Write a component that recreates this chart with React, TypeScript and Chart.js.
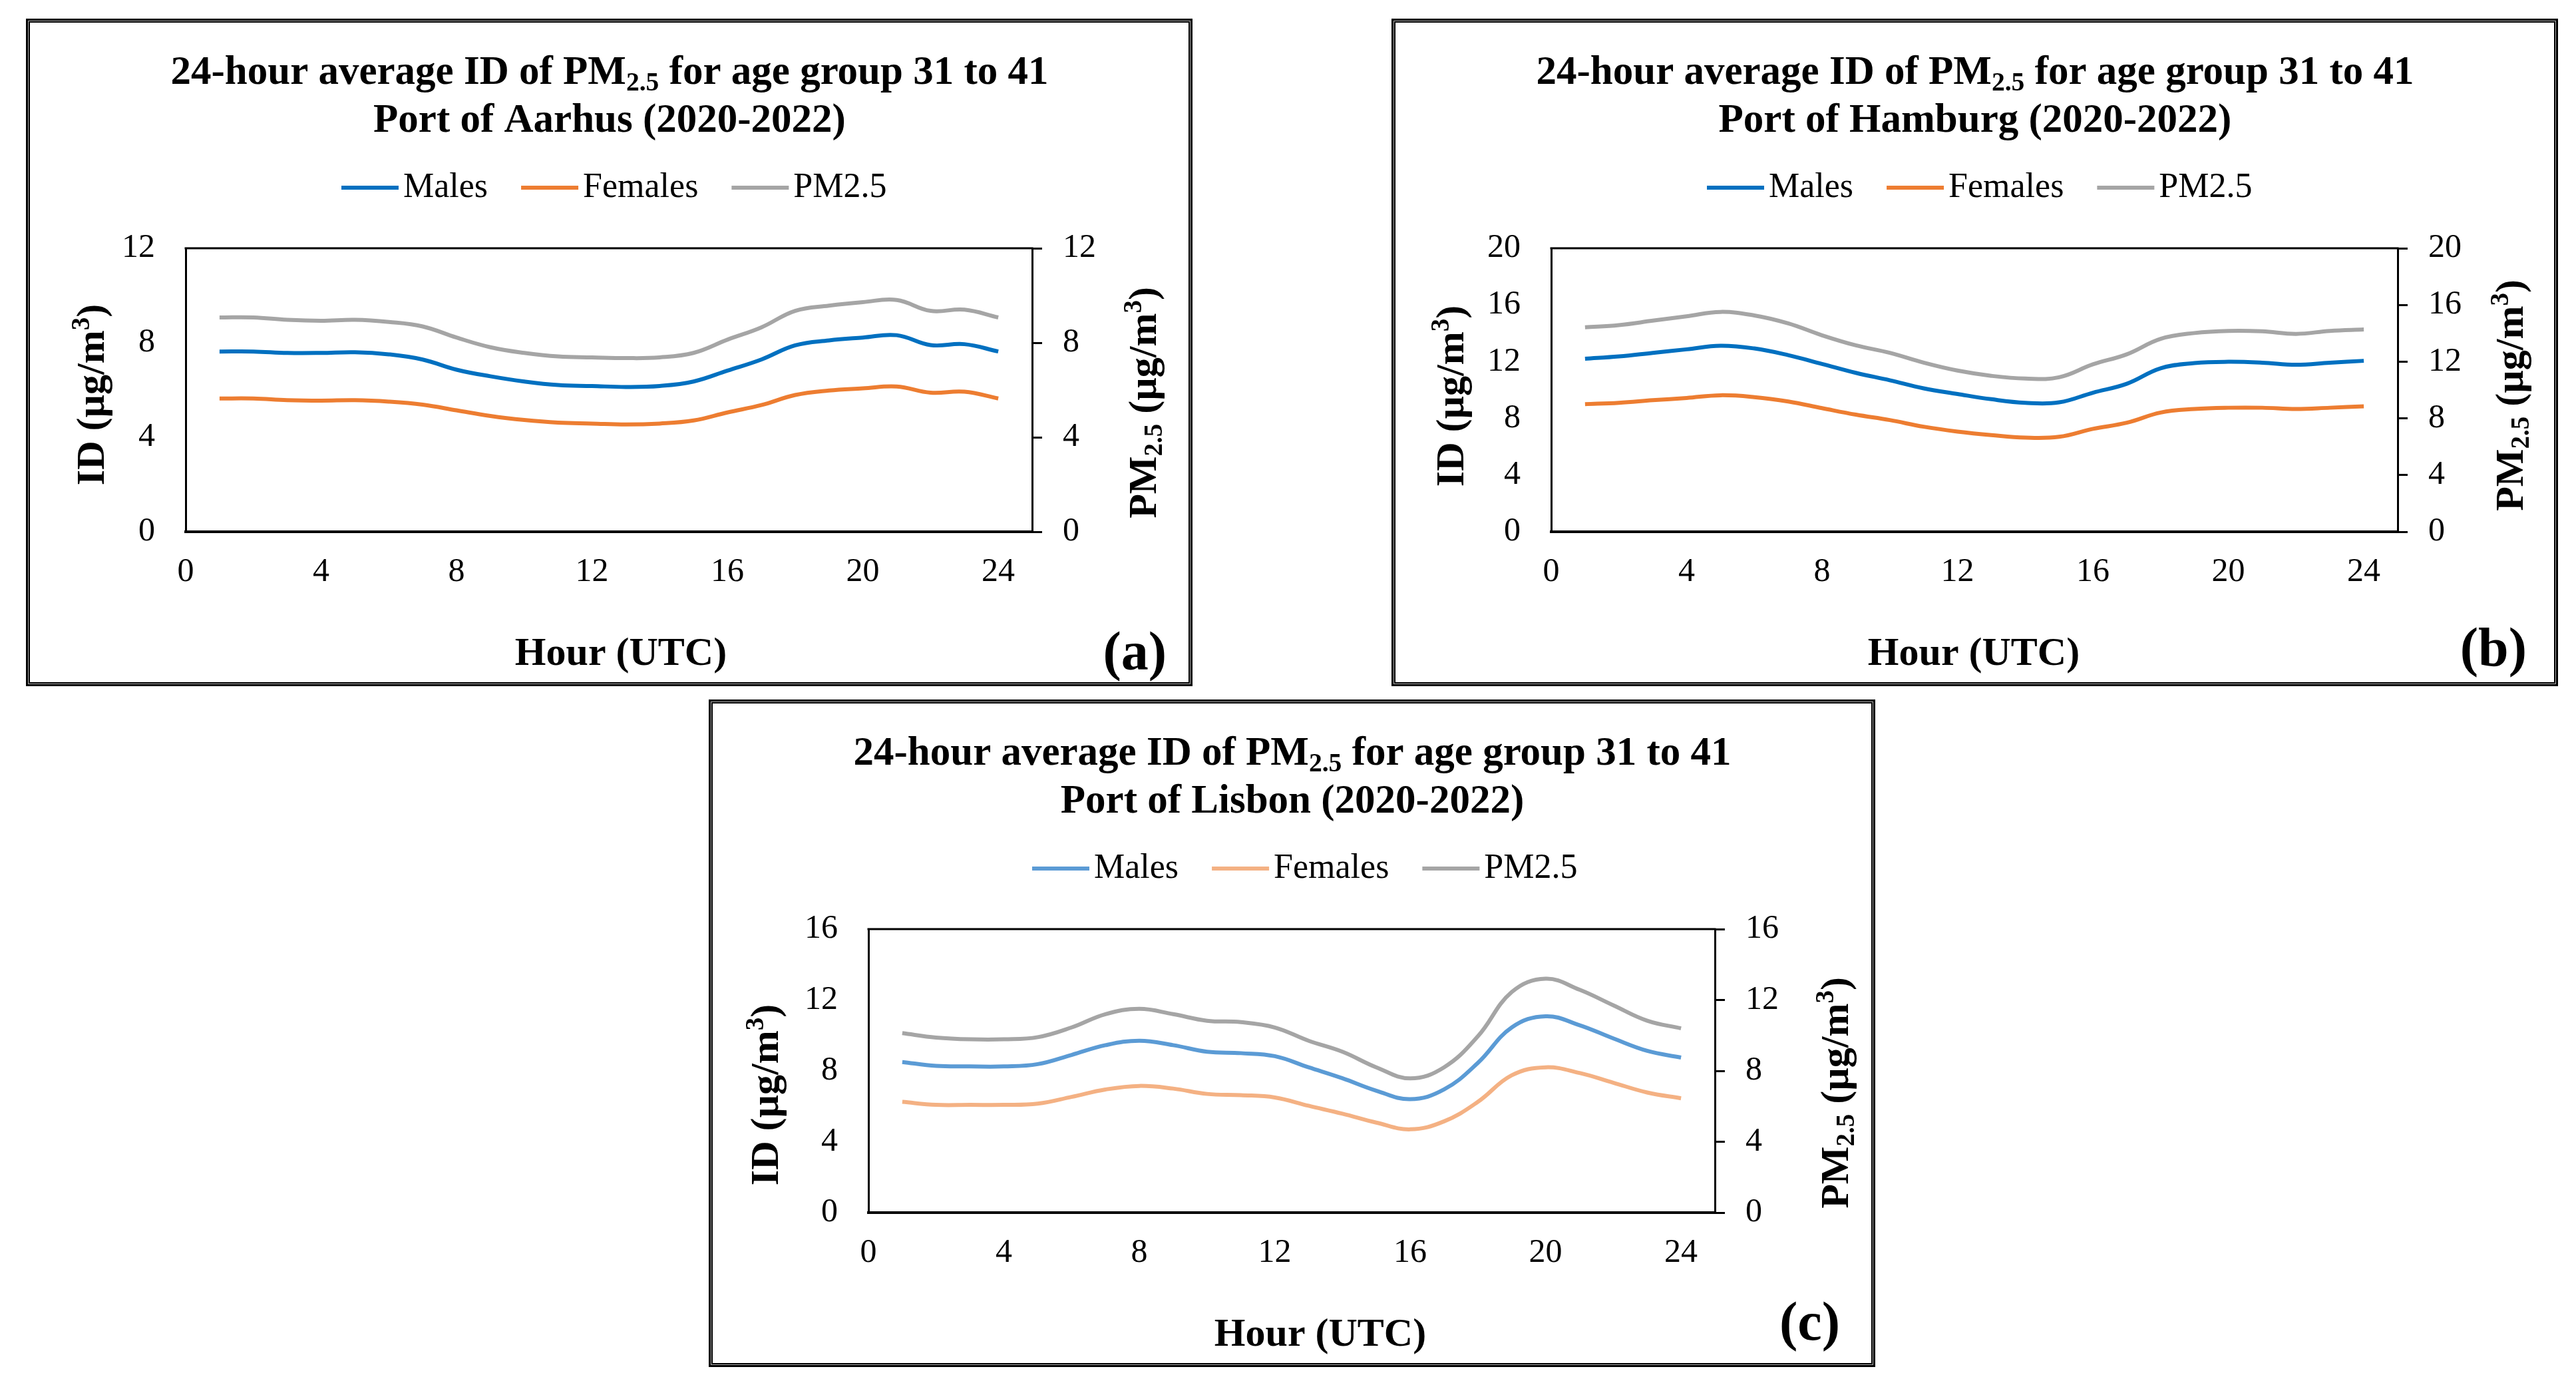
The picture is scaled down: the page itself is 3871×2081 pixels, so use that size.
import React, { useEffect, useRef } from 'react';
import { Chart, registerables } from 'chart.js';

Chart.register(...registerables);

// ---------- data ----------
const hours = [1, 2, 3, 4, 5, 6, 7, 8, 9, 10, 11, 12, 13, 14, 15, 16, 17, 18, 19, 20, 21, 22, 23, 24];
const xTicks = [0, 4, 8, 12, 16, 20, 24];
const seriesLabels = ['Males', 'Females', 'PM2.5'];

const aarhusYTicks = [0, 4, 8, 12];
const aarhusMales = [7.63, 7.63, 7.57, 7.57, 7.6, 7.51, 7.29, 6.86, 6.58, 6.36, 6.21, 6.17, 6.13, 6.17, 6.36, 6.82, 7.29, 7.89, 8.1, 8.22, 8.32, 7.9, 7.94, 7.63];
const aarhusFemales = [5.64, 5.64, 5.57, 5.55, 5.57, 5.51, 5.38, 5.14, 4.9, 4.73, 4.62, 4.58, 4.54, 4.58, 4.71, 5.05, 5.36, 5.79, 5.98, 6.07, 6.15, 5.89, 5.93, 5.64];
const aarhusPM = [9.07, 9.07, 8.97, 8.93, 8.97, 8.88, 8.69, 8.22, 7.81, 7.57, 7.42, 7.38, 7.35, 7.38, 7.57, 8.13, 8.65, 9.35, 9.57, 9.72, 9.81, 9.35, 9.4, 9.07];

const hamburgYTicks = [0, 4, 8, 12, 16, 20];
const hamburgMales = [12.21, 12.37, 12.62, 12.87, 13.12, 12.93, 12.46, 11.84, 11.21, 10.69, 10.12, 9.72, 9.35, 9.1, 9.13, 9.81, 10.44, 11.53, 11.9, 11.99, 11.93, 11.78, 11.93, 12.06];
const hamburgFemales = [9.0, 9.1, 9.28, 9.44, 9.63, 9.5, 9.19, 8.72, 8.26, 7.88, 7.41, 7.07, 6.82, 6.64, 6.7, 7.26, 7.69, 8.41, 8.66, 8.75, 8.75, 8.66, 8.75, 8.85];
const hamburgPM = [14.42, 14.58, 14.89, 15.2, 15.51, 15.26, 14.7, 13.86, 13.15, 12.62, 11.93, 11.37, 11.0, 10.81, 10.9, 11.81, 12.52, 13.61, 14.02, 14.17, 14.14, 13.96, 14.17, 14.27];

const lisbonYTicks = [0, 4, 8, 12, 16];
const lisbonMales = [8.5, 8.28, 8.25, 8.25, 8.38, 8.9, 9.45, 9.7, 9.45, 9.08, 9.0, 8.83, 8.2, 7.58, 6.88, 6.4, 6.95, 8.45, 10.45, 11.08, 10.58, 9.83, 9.13, 8.75];
const lisbonFemales = [6.25, 6.08, 6.08, 6.08, 6.15, 6.53, 6.95, 7.15, 7.0, 6.7, 6.63, 6.5, 6.03, 5.58, 5.08, 4.7, 5.15, 6.25, 7.75, 8.2, 7.88, 7.33, 6.78, 6.45];
const lisbonPM = [10.13, 9.88, 9.78, 9.78, 9.9, 10.45, 11.2, 11.5, 11.2, 10.83, 10.75, 10.45, 9.7, 9.08, 8.2, 7.58, 8.2, 9.95, 12.45, 13.2, 12.58, 11.7, 10.83, 10.4];

// ---------- layout / style ----------
const W = 1753;
const H = 1003;
const PLOT_LEFT = 240;
const PLOT_TOP = 345;
const PLOT_RIGHT = 1512;
const PLOT_BOTTOM = 771;
const FONT = '"Liberation Serif", "Times New Roman", serif';

type Seg = { t: string; k?: 'sub' | 'sup' };

const titleLine1: Seg[] = [
  { t: '24-hour average ID of PM' },
  { t: '2.5', k: 'sub' },
  { t: ' for age group 31 to 41' },
];
const leftAxisTitle: Seg[] = [{ t: 'ID (µg/m' }, { t: '3', k: 'sup' }, { t: ')' }];
const rightAxisTitle: Seg[] = [
  { t: 'PM' },
  { t: '2.5', k: 'sub' },
  { t: ' (µg/m' },
  { t: '3', k: 'sup' },
  { t: ')' },
];

function segFont(s: Seg, size: number, weight: string) {
  const sz = s.k ? size * 0.65 : size;
  return `${weight} ${sz}px ${FONT}`;
}

function drawRich(
  ctx: CanvasRenderingContext2D,
  segs: Seg[],
  x: number,
  y: number,
  size: number,
  weight: string,
  align: 'center' | 'left' | 'right',
  rotate = false
) {
  ctx.save();
  ctx.fillStyle = '#000';
  ctx.textBaseline = 'alphabetic';
  ctx.textAlign = 'left';
  let total = 0;
  const widths = segs.map((s) => {
    ctx.font = segFont(s, size, weight);
    const w = ctx.measureText(s.t).width;
    total += w;
    return w;
  });
  let ox = x;
  let oy = y;
  if (rotate) {
    ctx.translate(x, y);
    ctx.rotate(-Math.PI / 2);
    ox = 0;
    oy = size * 0.33; // cap centre on the anchor
  }
  let cx = align === 'center' ? ox - total / 2 : align === 'right' ? ox - total : ox;
  segs.forEach((s, i) => {
    ctx.font = segFont(s, size, weight);
    let dy = 0;
    if (s.k === 'sub') dy = size * 0.16;
    if (s.k === 'sup') dy = -size * 0.36;
    ctx.fillText(s.t, cx, oy + dy);
    cx += widths[i];
  });
  ctx.restore();
}

type PanelCfg = {
  left: number;
  top: number;
  place: string;
  males: number[];
  females: number[];
  pm: number[];
  yMax: number;
  yTicks: number[];
  colors: string[];
  legendX: number;
  hourX: number;
  tag: string;
  tagX: number;
  tagY: number;
  leftT: [number, number];
  rightT: [number, number];
};

const panels: PanelCfg[] = [
  {
    left: 39, top: 28, place: 'Port of Aarhus (2020-2022)',
    males: aarhusMales, females: aarhusFemales, pm: aarhusPM,
    yMax: 12, yTicks: aarhusYTicks,
    colors: ['#0070C0', '#ED7D31', '#A5A5A5'],
    legendX: 474, hourX: 894, tag: '(a)', tagX: 1714, tagY: 978,
    leftT: [97, 565], rightT: [1678, 577],
  },
  {
    left: 2091, top: 28, place: 'Port of Hamburg (2020-2022)',
    males: hamburgMales, females: hamburgFemales, pm: hamburgPM,
    yMax: 20, yTicks: hamburgYTicks,
    colors: ['#0070C0', '#ED7D31', '#A5A5A5'],
    legendX: 474, hourX: 875, tag: '(b)', tagX: 1706, tagY: 972,
    leftT: [88, 567], rightT: [1680, 566],
  },
  {
    left: 1065, top: 1051, place: 'Port of Lisbon (2020-2022)',
    males: lisbonMales, females: lisbonFemales, pm: lisbonPM,
    yMax: 16, yTicks: lisbonYTicks,
    colors: ['#5B9BD5', '#F4B183', '#A5A5A5'],
    legendX: 486, hourX: 919, tag: '(c)', tagX: 1700, tagY: 962,
    leftT: [84, 594], rightT: [1692, 591],
  },
];

function makeDecor(cfg: PanelCfg) {
  return {
    id: 'decor',
    afterDraw(chart: any) {
      const ctx: CanvasRenderingContext2D = chart.ctx;
      const ca = chart.chartArea;
      ctx.save();
      // top frame of the plot area
      ctx.strokeStyle = '#000';
      ctx.lineWidth = 3;
      ctx.beginPath();
      ctx.moveTo(ca.left - 1.5, ca.top);
      ctx.lineTo(ca.right + 1.5, ca.top);
      ctx.stroke();

      // titles
      drawRich(ctx, titleLine1, 877, 98, 61, 'bold', 'center');
      drawRich(ctx, [{ t: cfg.place }], 877, 170, 61, 'bold', 'center');

      // legend
      let lx = cfg.legendX;
      const ly = 254;
      chart.data.datasets.forEach((ds: any) => {
        ctx.strokeStyle = ds.borderColor;
        ctx.lineWidth = 6;
        ctx.lineCap = 'butt';
        ctx.beginPath();
        ctx.moveTo(lx, ly);
        ctx.lineTo(lx + 86, ly);
        ctx.stroke();
        lx += 93;
        ctx.font = `normal 52px ${FONT}`;
        ctx.fillStyle = '#000';
        ctx.textAlign = 'left';
        ctx.textBaseline = 'alphabetic';
        ctx.fillText(ds.label, lx, 268);
        lx += ctx.measureText(ds.label).width + 50;
      });

      // axis titles
      drawRich(ctx, [{ t: 'Hour (UTC)' }], cfg.hourX, 971, 60, 'bold', 'center');
      drawRich(ctx, leftAxisTitle, cfg.leftT[0], cfg.leftT[1], 60, 'bold', 'center', true);
      drawRich(ctx, rightAxisTitle, cfg.rightT[0], cfg.rightT[1], 60, 'bold', 'center', true);

      // panel tag
      drawRich(ctx, [{ t: cfg.tag }], cfg.tagX, cfg.tagY, 82, 'bold', 'right');
      ctx.restore();
    },
  };
}

function Panel({ cfg }: { cfg: PanelCfg }) {
  const ref = useRef<HTMLCanvasElement>(null);
  useEffect(() => {
    const toPts = (vals: number[]) => hours.map((h, i) => ({ x: h, y: vals[i] }));
    const tickFont = { family: FONT, size: 50, weight: 'normal' as const };
    const chart = new Chart(ref.current as HTMLCanvasElement, {
      type: 'line',
      data: {
        datasets: [
          { label: seriesLabels[0], data: toPts(cfg.males), borderColor: cfg.colors[0], yAxisID: 'y' },
          { label: seriesLabels[1], data: toPts(cfg.females), borderColor: cfg.colors[1], yAxisID: 'y' },
          { label: seriesLabels[2], data: toPts(cfg.pm), borderColor: cfg.colors[2], yAxisID: 'y1' },
        ].map((d) => ({ ...d, borderWidth: 6, pointRadius: 0, tension: 0.4, fill: false, backgroundColor: d.borderColor })),
      },
      options: {
        animation: false,
        responsive: false,
        devicePixelRatio: 1,
        layout: { padding: { top: PLOT_TOP, left: 0, right: 0, bottom: 0 } },
        plugins: { legend: { display: false }, title: { display: false }, tooltip: { enabled: false } },
        scales: {
          x: {
            type: 'linear',
            min: 0,
            max: 25,
            afterBuildTicks: (s: any) => { s.ticks = xTicks.map((v) => ({ value: v })); },
            afterFit: (s: any) => { s.height = H - PLOT_BOTTOM; },
            grid: { display: false, drawTicks: false },
            border: { display: true, color: '#000', width: 4 },
            ticks: { font: tickFont, color: '#000', padding: 31, maxRotation: 0, autoSkip: false },
          },
          y: {
            type: 'linear',
            position: 'left',
            min: 0,
            max: cfg.yMax,
            afterBuildTicks: (s: any) => { s.ticks = cfg.yTicks.map((v) => ({ value: v })); },
            afterFit: (s: any) => { s.width = PLOT_LEFT; },
            grid: { display: false, drawTicks: false },
            border: { display: true, color: '#000', width: 3 },
            ticks: { font: tickFont, color: '#000', padding: 46 },
          },
          y1: {
            type: 'linear',
            position: 'right',
            min: 0,
            max: cfg.yMax,
            afterBuildTicks: (s: any) => { s.ticks = cfg.yTicks.map((v) => ({ value: v })); },
            afterFit: (s: any) => { s.width = W - PLOT_RIGHT; },
            grid: { display: true, drawOnChartArea: false, drawTicks: true, tickLength: 15, color: '#000', tickColor: '#000', tickWidth: 3, lineWidth: 3 },
            border: { display: true, color: '#000', width: 3 },
            ticks: { font: tickFont, color: '#000', padding: 31 },
          },
        },
      } as any,
      plugins: [makeDecor(cfg)],
    });
    return () => chart.destroy();
  }, [cfg]);

  return (
    <div style={{ position: 'absolute', left: cfg.left, top: cfg.top, width: W, height: H, background: '#fff' }}>
      <canvas ref={ref} width={W} height={H} style={{ position: 'absolute', left: 0, top: 0, width: W, height: H }} />
      <div
        style={{
          position: 'absolute', left: 0, top: 0, width: W, height: H, boxSizing: 'border-box',
          border: '3px solid #000', boxShadow: 'inset 0 0 0 1px #b0b0b0, inset 0 0 0 3px #000', pointerEvents: 'none',
        }}
      />
    </div>
  );
}

export default function App() {
  return (
    <div style={{ position: 'absolute', left: 0, top: 0, width: 3871, height: 2081, background: '#fff', overflow: 'hidden' }}>
      {panels.map((p) => (
        <Panel key={p.tag} cfg={p} />
      ))}
    </div>
  );
}
